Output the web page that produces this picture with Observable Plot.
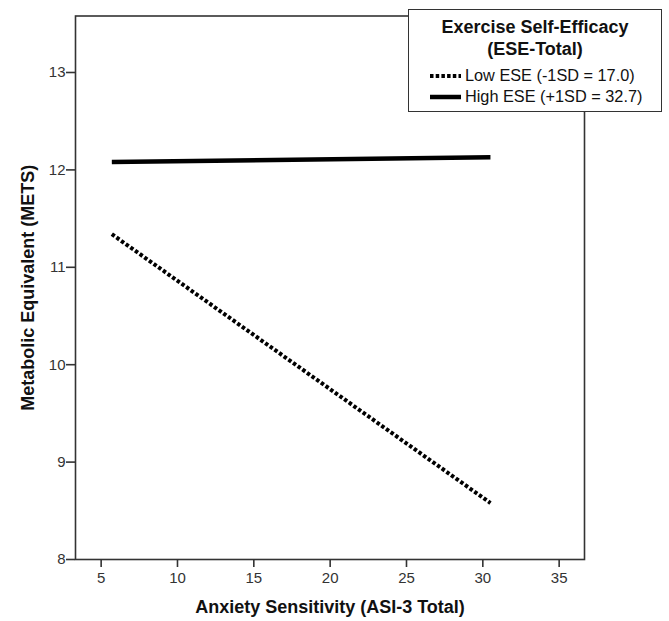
<!DOCTYPE html>
<html>
<head>
<meta charset="utf-8">
<script src="https://cdn.jsdelivr.net/npm/d3@7"></script>
<script src="https://cdn.jsdelivr.net/npm/@observablehq/plot@0.6"></script>
<style>
  html, body { margin: 0; padding: 0; background: #fff; }
  #wrap { position: relative; width: 669px; height: 621px; font-family: "Liberation Sans", Arial, sans-serif; }
  #legend {
    position: absolute; left: 408px; top: 9px; width: 254px; height: 103px;
    background: #fff; border: 1px solid #333; box-sizing: border-box;
    font-family: "Liberation Sans", Arial, sans-serif; color: #111;
  }
  #legend .title { text-align: center; font-weight: bold; font-size: 18px; line-height: 22px; margin-top: 6px; margin-bottom: 5px; }
  #legend .row { display: flex; align-items: center; font-size: 16.3px; line-height: 21px; margin-left: 21px; }
  #legend .row svg { margin-right: 4px; }
</style>
</head>
<body>
<div id="wrap">
  <div id="chart"></div>
  <div id="legend"></div>
</div>
<script>
// Data
const asiValues = [5.7, 30.5];               // Anxiety Sensitivity (ASI-3 Total)
const lowESE = [11.34, 8.58];                // Low ESE (-1SD = 17.0)
const highESE = [12.08, 12.13];              // High ESE (+1SD = 32.7)
const seriesNames = ["Low ESE (-1SD = 17.0)", "High ESE (+1SD = 32.7)"];
const xTicks = [5, 10, 15, 20, 25, 30, 35];
const yTicks = [8, 9, 10, 11, 12, 13];
const legendTitle = ["Exercise Self-Efficacy", "(ESE-Total)"];
const xTitle = "Anxiety Sensitivity (ASI-3 Total)";
const yTitle = "Metabolic Equivalent (METS)";

const lowData = asiValues.map((x, i) => ({x, y: lowESE[i]}));
const highData = asiValues.map((x, i) => ({x, y: highESE[i]}));

const chart = Plot.plot({
  width: 669,
  height: 621,
  marginLeft: 75,
  marginRight: 85,
  marginTop: 15.5,
  marginBottom: 62,
  style: { fontFamily: "Liberation Sans, Arial, sans-serif", fontSize: "15px", color: "#222", background: "#fff" },
  x: { domain: [3.32, 36.66] },
  y: { domain: [8, 13.58] },
  marks: [
    Plot.frame({ stroke: "#333", strokeWidth: 1.6 }),
    Plot.axisX({ ticks: xTicks, tickFormat: "d", tickSize: 8, tickPadding: 5, label: null, fontSize: 15, stroke: "#333", strokeWidth: 1.6, fill: "#333" }),
    Plot.axisY({ ticks: yTicks, tickFormat: "d", tickSize: 9, tickPadding: 1, label: null, fontSize: 15, stroke: "#333", strokeWidth: 1.6, fill: "#333" }),
    Plot.line(highData, { x: "x", y: "y", stroke: "#000", strokeWidth: 4.5, strokeLinecap: "butt" }),
    Plot.line(lowData, { x: "x", y: "y", stroke: "#000", strokeWidth: 4, strokeLinecap: "butt", strokeDasharray: "3.5,2.2" }),
    Plot.text([xTitle], { frameAnchor: "bottom", dy: 48, lineAnchor: "middle", textAnchor: "middle", fontWeight: "bold", fontSize: 18, fill: "#111" }),
    Plot.text([yTitle], { frameAnchor: "left", dx: -47, rotate: -90, lineAnchor: "middle", textAnchor: "middle", fontWeight: "bold", fontSize: 18, fill: "#111" })
  ]
});
document.getElementById("chart").appendChild(chart);

// Legend
const leg = document.getElementById("legend");
const t = document.createElement("div");
t.className = "title";
t.innerHTML = legendTitle.join("<br>");
leg.appendChild(t);
seriesNames.forEach((name, i) => {
  const row = document.createElement("div");
  row.className = "row";
  const dash = i === 0 ? 'stroke-dasharray="3.5,2.2"' : "";
  row.innerHTML = `<svg width="31" height="8"><line x1="0" y1="4" x2="31" y2="4" stroke="#000" stroke-width="${i === 0 ? 4 : 4.5}" ${dash}/></svg><span>${name}</span>`;
  leg.appendChild(row);
});
</script>
</body>
</html>
